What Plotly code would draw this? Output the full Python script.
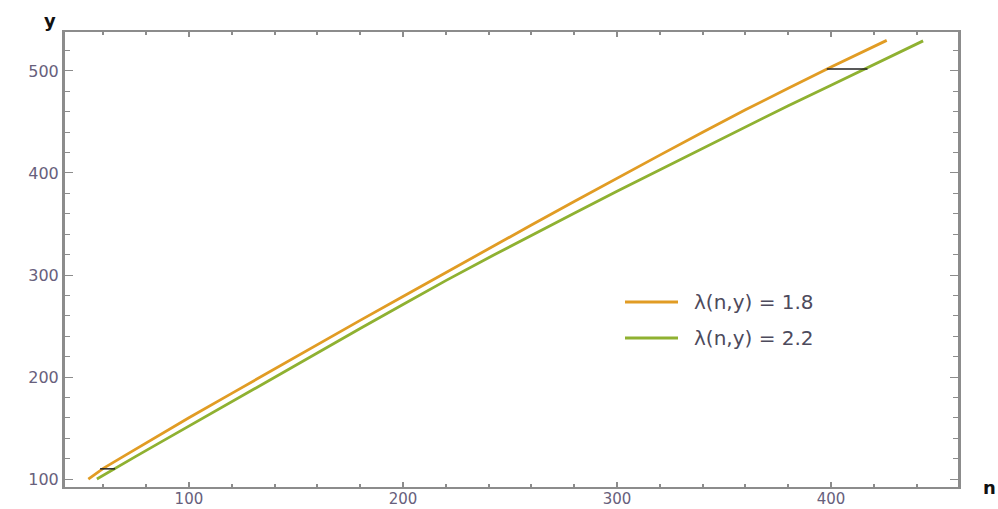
import plotly.graph_objects as go

# Curve for lambda(n, y) = 1.8
n_a = [53, 60, 70, 80, 100, 120, 140, 160, 180, 200, 220, 240, 260, 280,
       300, 320, 340, 360, 380, 400, 426]
y_a = [100, 110.5, 123, 135.5, 160, 184, 208, 232, 255.5, 279, 302.5, 326, 349, 372,
       395, 417.5, 440, 462, 483, 504, 530]

# Curve for lambda(n, y) = 2.2
n_b = [57, 65, 75, 85, 100, 120, 140, 160, 180, 200, 220, 240, 260, 280,
       300, 320, 340, 360, 380, 400, 420, 443]
y_b = [100, 110, 122, 134, 152, 176, 200, 224, 247.5, 271, 294.5, 317, 339, 360.5,
       382, 403, 424, 445, 466, 486, 506, 529.5]

# Horizontal gaps between the two curves
gap_y = [110, 502]
gap_left = [58.5, 398]
gap_right = [65.5, 417]

labels = ["\u03bb(n,y) = 1.8", "\u03bb(n,y) = 2.2"]
colors = ["#E19C24", "#8FB131"]

fig = go.Figure()
fig.add_trace(go.Scatter(x=n_a, y=y_a, mode="lines", name=labels[0],
                         line=dict(color=colors[0], width=2.8), showlegend=False))
fig.add_trace(go.Scatter(x=n_b, y=y_b, mode="lines", name=labels[1],
                         line=dict(color=colors[1], width=2.8), showlegend=False))
for gy, gl, gr in zip(gap_y, gap_left, gap_right):
    fig.add_trace(go.Scatter(x=[gl, gr], y=[gy, gy], mode="lines",
                             line=dict(color="#222222", width=1.5),
                             showlegend=False, hoverinfo="skip"))

frame = "#8c8c8c"
tick_font = dict(family="DejaVu Sans", size=16, color="#67607c")

fig.update_xaxes(
    range=[42.1, 459.3], tickmode="linear", tick0=0, dtick=100,
    showline=True, linecolor=frame, linewidth=1.5, mirror="allticks",
    ticks="inside", ticklen=5, tickwidth=2, tickcolor=frame,
    minor=dict(dtick=20, tick0=0, ticks="inside", ticklen=3, tickwidth=2,
               tickcolor=frame),
    showgrid=False, zeroline=False,
    tickfont=dict(family="DejaVu Sans", size=15, color="#67607c"),
    ticklabelstandoff=-3, automargin=False,
)
fig.update_yaxes(
    range=[92.2, 538.2], tickmode="linear", tick0=0, dtick=100,
    showline=True, linecolor=frame, linewidth=3, mirror="allticks",
    ticks="inside", ticklen=8, tickwidth=1, tickcolor=frame,
    minor=dict(dtick=20, tick0=0, ticks="inside", ticklen=5, tickwidth=1,
               tickcolor=frame),
    showgrid=False, zeroline=False, tickfont=tick_font, automargin=False,
)

L, R, T, B = 65, 40, 32, 22
W, H = 998, 509
pw, ph = W - L - R, H - T - B

def px(x):
    return (x - L) / pw

def py(y):
    return (H - B - y) / ph

# Legend drawn by hand: sample line and label for each curve
for i, (lab, col) in enumerate(zip(labels, colors)):
    yy = py(302 + 36 * i)
    fig.add_shape(type="line", xref="paper", yref="paper",
                  x0=px(625), x1=px(678), y0=yy, y1=yy,
                  line=dict(color=col, width=2.8))
    fig.add_annotation(xref="paper", yref="paper", x=px(692), y=yy,
                       text=lab, showarrow=False, xanchor="left",
                       yanchor="middle",
                       font=dict(family="DejaVu Sans", size=20, color="#4d4a5c"))

# Axis titles
fig.add_annotation(xref="paper", yref="paper", x=px(50), y=py(20), text="<b>y</b>",
                   showarrow=False, xanchor="center", yanchor="middle",
                   font=dict(family="DejaVu Sans", size=18, color="#111111"))
fig.add_annotation(xref="paper", yref="paper", x=px(989), y=py(487), text="<b>n</b>",
                   showarrow=False, xanchor="center", yanchor="middle",
                   font=dict(family="DejaVu Sans", size=18, color="#111111"))

fig.update_layout(
    width=W, height=H,
    margin=dict(l=L, r=R, t=T, b=B, autoexpand=False),
    paper_bgcolor="white", plot_bgcolor="white",
    showlegend=False,
)

fig.write_html("out.html")
